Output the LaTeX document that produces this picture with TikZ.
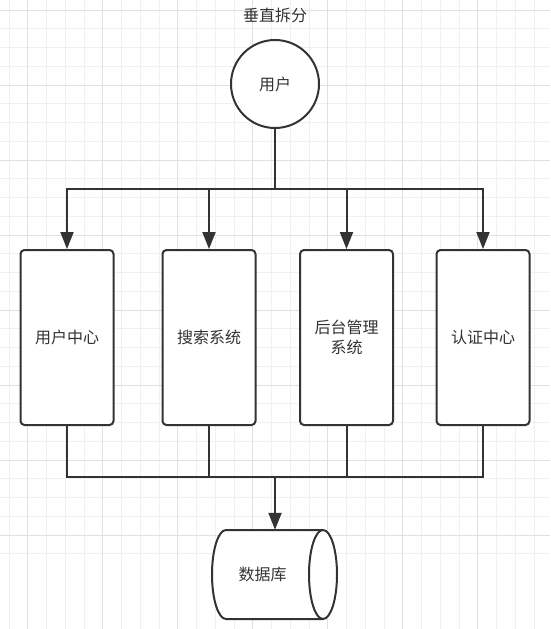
\documentclass[tikz,border=0pt]{standalone}
\usepackage{fontspec}
\setmainfont{Noto Sans CJK SC}
\usetikzlibrary{arrows.meta}
\definecolor{ink}{HTML}{333333}
\definecolor{gridminor}{HTML}{F0F0F0}
\definecolor{gridmajor}{HTML}{E0E0E0}

\begin{document}
\begin{tikzpicture}[
  x=1pt, y=-1pt,
  font=\fontsize{16}{20}\selectfont,
  text=ink,
  service/.style={draw=ink, line width=2pt, fill=white, rounded corners=4pt,
    minimum width=93pt, minimum height=175pt, align=center, inner sep=0pt},
  link/.style={draw=ink, line width=2pt},
  arrow/.style={link, -{Triangle[length=17pt,width=13pt]}}
]
  % background grid
  \useasboundingbox[fill=white] (0,0) rectangle (550,629);
  \foreach \i in {0,...,29} {
    \draw[gridminor, line width=1pt] (9+18.75*\i,0) -- (9+18.75*\i,629);
    \draw[gridminor, line width=1pt] (0,10+18.75*\i) -- (550,10+18.75*\i);
  }
  \foreach \i in {0,...,7} {
    \draw[gridmajor, line width=1pt] (27.75+75*\i,0) -- (27.75+75*\i,629);
    \draw[gridmajor, line width=1pt] (0,10+75*\i) -- (550,10+75*\i);
  }

  \node (title) at (275,15) {垂直拆分};
  \node (user) [circle, draw=ink, line width=2pt, fill=white, minimum size=88pt, inner sep=0pt] at (275,84) {用户};

  \node (uc)   [service] at (67,337.5)  {用户中心};
  \node (ss)   [service] at (209,337.5) {搜索系统};
  \node (adm)  [service] at (346.5,337.5) {后台管理\\系统};
  \node (auth) [service] at (483,337.5) {认证中心};

  % database drum
  \draw[ink, line width=2pt, fill=white] (323,530) -- (226,530)
    arc[start angle=-90, end angle=-270, x radius=14, y radius=44.5] -- (323,619);
  \draw[ink, line width=2pt, fill=white] (323,574.5) ellipse[x radius=14, y radius=44.5];
  \node (db) [minimum width=101pt, minimum height=89pt, inner sep=0pt] at (262.5,574.5) {数据库};

  \coordinate (split) at (275,189);
  \coordinate (merge) at (275,477);

  \draw[link] (user.south) -- (split);
  \foreach \n in {uc,ss,adm,auth}
    \draw[arrow] (split) -| (\n.north);
  \foreach \n in {uc,ss,adm,auth}
    \draw[link] (\n.south) |- (merge);
  \draw[arrow] (merge) -- (merge |- db.north);
\end{tikzpicture}
\end{document}
